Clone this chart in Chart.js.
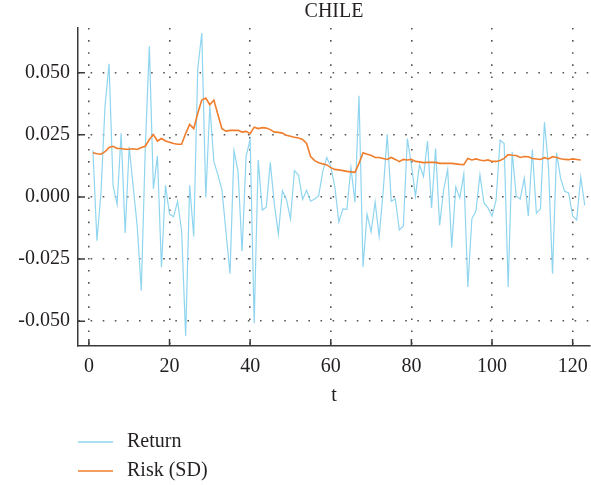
<!DOCTYPE html>
<html>
<head>
<meta charset="utf-8">
<script src="https://cdn.jsdelivr.net/npm/chart.js@4.4.1/dist/chart.umd.min.js"></script>
<style>
  html, body { margin: 0; padding: 0; background: #fff; }
  #wrap { width: 591px; height: 485px; }
</style>
</head>
<body>
<div id="wrap"><canvas id="chile" width="591" height="485"></canvas></div>
<script>
// t = 1..123 (observation index)
const t = Array.from({ length: 123 }, (_, i) => i + 1);

const returns = [
  0.0188, -0.0176, 0.0016, 0.0365, 0.0536, 0.0045, -0.0030, 0.0256, -0.0145, 0.0202,
  0.0040, -0.0120, -0.0377, 0.0202, 0.0606, 0.0032, 0.0165, -0.0283, 0.0047, -0.0069,
  -0.0080, -0.0018, -0.0136, -0.0560, 0.0047, -0.0159, 0.0515, 0.0660, -0.0002, 0.0367,
  0.0142, 0.0089, 0.0029, -0.0140, -0.0309, 0.0186, 0.0102, -0.0219, 0.0164, 0.0231,
  -0.0508, 0.0149, -0.0053, -0.0041, 0.0139, -0.0030, -0.0150, 0.0025, -0.0010, -0.0088,
  0.0106, 0.0088, -0.0010, 0.0027, -0.0017, -0.0008, 0.0005, 0.0102, 0.0159, 0.0122,
  0.0042, -0.0101, -0.0048, -0.0050, 0.0119, -0.0021, 0.0407, -0.0282, -0.0070, -0.0141,
  -0.0021, -0.0159, 0.0023, 0.0252, -0.0017, -0.0008, -0.0133, -0.0117, 0.0235, 0.0129,
  0.0003, 0.0129, 0.0082, 0.0225, -0.0044, 0.0195, -0.0114, 0.0029, 0.0111, -0.0203,
  0.0040, -0.0004, 0.0093, -0.0362, -0.0088, -0.0057, 0.0089, -0.0024, -0.0044, -0.0077,
  -0.0013, 0.0228, 0.0215, -0.0362, 0.0182, 0.0003, -0.0008, 0.0076, -0.0077, 0.0191,
  -0.0066, -0.0048, 0.0301, 0.0122, -0.0309, 0.0178, 0.0076, 0.0023, 0.0016, -0.0077,
  -0.0093, 0.0080, -0.0034
];

const risk = [
  0.0178, 0.0174, 0.0172, 0.0182, 0.0199, 0.0204, 0.0195, 0.0195, 0.0192, 0.0192,
  0.0194, 0.0191, 0.0199, 0.0204, 0.0231, 0.0251, 0.0225, 0.0235, 0.0225, 0.0220,
  0.0215, 0.0212, 0.0212, 0.0255, 0.0292, 0.0275, 0.0337, 0.0390, 0.0398, 0.0371,
  0.0390, 0.0332, 0.0275, 0.0265, 0.0268, 0.0268, 0.0268, 0.0261, 0.0264, 0.0255,
  0.0281, 0.0275, 0.0279, 0.0277, 0.0271, 0.0261, 0.0260, 0.0257, 0.0248, 0.0244,
  0.0240, 0.0237, 0.0231, 0.0215, 0.0162, 0.0146, 0.0138, 0.0133, 0.0129, 0.0118,
  0.0111, 0.0109, 0.0106, 0.0103, 0.0101, 0.0099, 0.0135, 0.0178, 0.0172, 0.0168,
  0.0159, 0.0159, 0.0155, 0.0151, 0.0159, 0.0151, 0.0142, 0.0151, 0.0149, 0.0151,
  0.0143, 0.0141, 0.0138, 0.0139, 0.0139, 0.0139, 0.0135, 0.0135, 0.0135, 0.0135,
  0.0133, 0.0131, 0.0130, 0.0155, 0.0149, 0.0153, 0.0149, 0.0146, 0.0149, 0.0143,
  0.0143, 0.0147, 0.0155, 0.0170, 0.0168, 0.0167, 0.0159, 0.0163, 0.0162, 0.0155,
  0.0153, 0.0151, 0.0158, 0.0153, 0.0162, 0.0159, 0.0154, 0.0151, 0.0150, 0.0153,
  0.0151, 0.0149
];

const xTicks = [0, 20, 40, 60, 80, 100, 120];
const yTicks = [-0.05, -0.025, 0, 0.025, 0.05];
const seriesNames = ["Return", "Risk (SD)"];
const seriesColors = ["#8fd5ef", "#f07d2c"];

const serif = "'Liberation Serif', 'Times New Roman', serif";
Chart.defaults.font.family = serif;
Chart.defaults.font.size = 20;
Chart.defaults.color = "#231f20";

const dotGrid = { color: "#555", lineWidth: 1.6, drawTicks: false };
// in v4 the grid line dash lives under border.dash
const axisLine = { color: "#3a3a3a", width: 1.5, dash: [1.6, 10.5] };

// small tick marks drawn inside the plot area
const innerTicks = {
  id: "innerTicks",
  afterDatasetsDraw(chart) {
    const { ctx, chartArea: { left, bottom }, scales: { x, y } } = chart;
    ctx.save();
    ctx.strokeStyle = "#3a3a3a";
    ctx.lineWidth = 1.5;
    ctx.beginPath();
    xTicks.forEach(v => {
      const px = x.getPixelForValue(v);
      ctx.moveTo(px, bottom);
      ctx.lineTo(px, bottom - 7);
    });
    yTicks.forEach(v => {
      const py = y.getPixelForValue(v);
      ctx.moveTo(left, py);
      ctx.lineTo(left + 7, py);
    });
    ctx.stroke();
    ctx.restore();
  }
};

// legend stacked vertically under the axis title
const stackedLegend = {
  id: "stackedLegend",
  afterDraw(chart) {
    const { ctx } = chart;
    ctx.save();
    ctx.font = "20px " + serif;
    ctx.textBaseline = "middle";
    ctx.fillStyle = "#231f20";
    chart.data.datasets.forEach((ds, i) => {
      const yy = 442 + i * 29;
      ctx.strokeStyle = ds.borderColor;
      ctx.lineWidth = 1.5;
      ctx.beginPath();
      ctx.moveTo(78, yy);
      ctx.lineTo(113, yy);
      ctx.stroke();
      ctx.fillText(ds.label, 127, yy);
    });
    ctx.restore();
  }
};

new Chart(document.getElementById("chile"), {
  type: "line",
  data: {
    labels: t,
    datasets: [
      { label: seriesNames[0], data: returns, borderColor: seriesColors[0], borderWidth: 1.2, pointRadius: 0, order: 1 },
      { label: seriesNames[1], data: risk, borderColor: seriesColors[1], borderWidth: 1.6, pointRadius: 0, order: 0 }
    ]
  },
  options: {
    responsive: false,
    animation: false,
    devicePixelRatio: 1,
    layout: { padding: { left: 0, right: 1, top: 0, bottom: 75 } },
    plugins: {
      legend: { display: false },
      tooltip: { enabled: false },
      title: {
        display: true, text: "CHILE", fullSize: false,
        font: { size: 20, weight: "normal" }, padding: { top: 0, bottom: 4 }, color: "#231f20"
      }
    },
    scales: {
      x: {
        type: "linear", min: -2.7, max: 124.3,
        grid: dotGrid, border: axisLine,
        afterBuildTicks: s => { s.ticks = xTicks.map(v => ({ value: v })); },
        ticks: { padding: 9, maxRotation: 0 },
        afterFit: s => { s.height = 64; s.paddingLeft = 0; s.paddingRight = 0; },
        title: { display: true, text: "t", padding: { top: 0, bottom: 2 } }
      },
      y: {
        min: -0.06, max: 0.068,
        grid: dotGrid, border: axisLine,
        afterBuildTicks: s => { s.ticks = yTicks.map(v => ({ value: v })); },
        ticks: { padding: 8, callback: v => v.toFixed(3) },
        afterFit: s => { s.width = 78; s.paddingTop = 0; s.paddingBottom = 0; }
      }
    }
  },
  plugins: [innerTicks, stackedLegend]
});
</script>
</body>
</html>
